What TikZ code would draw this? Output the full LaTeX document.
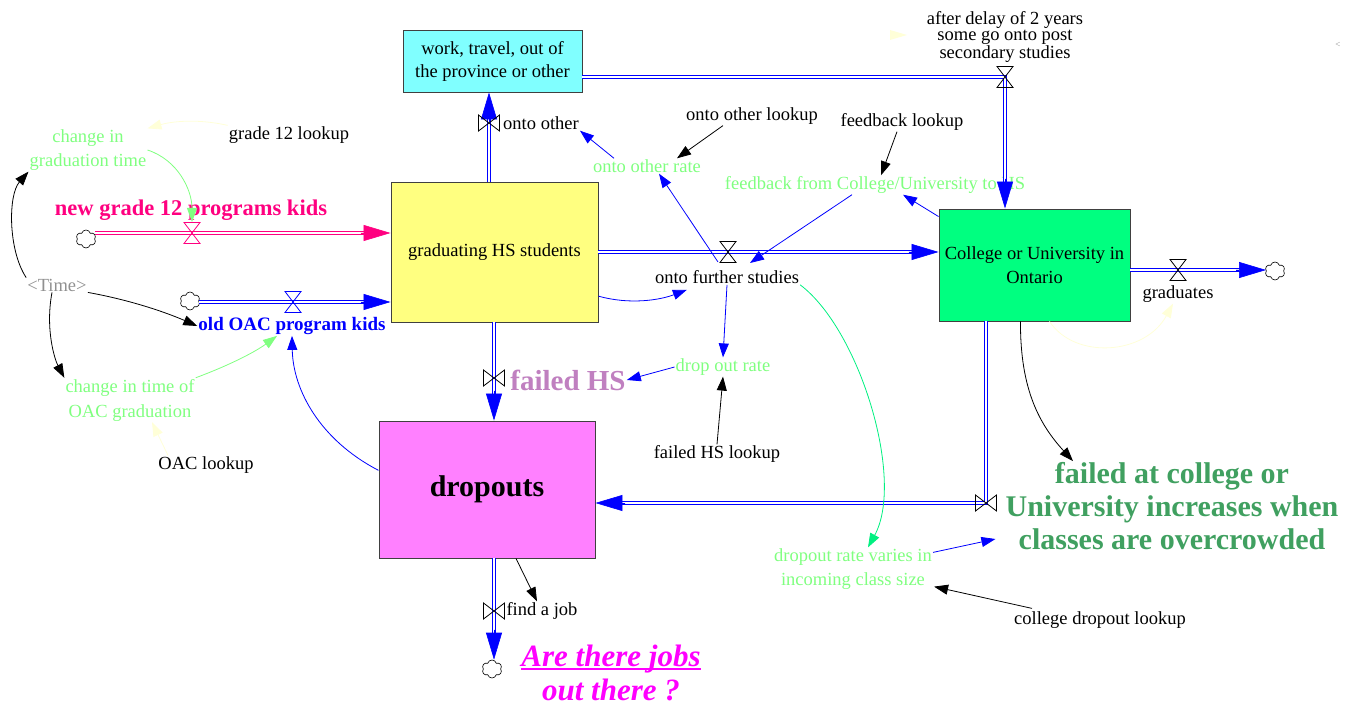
\documentclass[tikz,border=0pt]{standalone}
\usepackage{fontspec}
\setmainfont{Liberation Serif}
\usetikzlibrary{arrows.meta,shapes.symbols,calc}
\definecolor{cyanbox}{HTML}{80FFFF}
\definecolor{yelbox}{HTML}{FFFF80}
\definecolor{grnbox}{HTML}{00FF80}
\definecolor{magbox}{HTML}{FF80FF}
\definecolor{auxgreen}{HTML}{80FF80}
\definecolor{pinkflow}{HTML}{FF0080}
\definecolor{mauve}{HTML}{C080C0}
\definecolor{biggreen}{HTML}{40A060}
\definecolor{faint}{HTML}{FFFFD8}
\definecolor{spring}{HTML}{00F080}
\definecolor{timegray}{HTML}{909090}
\definecolor{jobmag}{HTML}{FF00FF}
\newcommand{\lowuline}[1]{{\setbox0\hbox{#1}\rlap{\rule[-3.5pt]{\wd0}{2pt}}\box0}}
\begin{document}
\begin{tikzpicture}[x=1pt,y=-1pt,
  stock/.style={draw=black!75, line width=0.9pt, inner sep=0pt, align=center, font=\fontsize{18.5}{23}\selectfont},
  lbl/.style={inner sep=1pt, align=center, font=\fontsize{18.5}{23}\selectfont},
  pipe/.style={draw=#1, double=white, line width=1.1pt, double distance=2pt, shorten >=26pt},
  pipe/.default=blue,
  tipst/.style={draw=#1, fill=#1, line width=0.6pt, -{Triangle[length=27pt,width=16pt]}},
  conn/.style={line width=0.8pt, -{Triangle[length=14pt,width=10pt]}},
  cloudst/.style={cloud, cloud puffs=6, draw=black, line width=0.6pt, minimum width=20pt, minimum height=18pt, inner sep=0pt, aspect=1.1},
  valveh/.pic={\draw[line width=0.8pt, pic actions] (-8,-10.5) -- (8,-10.5) -- (-8,10.5) -- (8,10.5) -- cycle;},
  valvev/.pic={\draw[line width=0.8pt, pic actions] (-10.5,-8) -- (-10.5,8) -- (10.5,-8) -- (10.5,8) -- cycle;}
]
\useasboundingbox (0,0) rectangle (1355,708);

% stocks
\node[stock, fill=cyanbox, minimum width=179pt, minimum height=62pt] (work) at (492.5,61) {work, travel, out of\\the province or other};
\node[stock, fill=yelbox, minimum width=207pt, minimum height=140pt] (grad) at (494.5,252) {graduating HS students};
\node[stock, fill=grnbox, minimum width=191pt, minimum height=112pt, font=\fontsize{18.5}{24}\selectfont] (col) at (1034.5,265) {College or University in\\Ontario};
\node[stock, fill=magbox, minimum width=216pt, minimum height=137pt, font=\bfseries\fontsize{30}{32}\selectfont] (drop) at (487,489.5) {dropouts};

% valves
\coordinate (v1) at (192,233);
\coordinate (v1top) at (192,222);
\coordinate (v2) at (293,302);
\coordinate (v3) at (489,123);
\coordinate (v4) at (728,252);
\coordinate (v5) at (1005,77);
\coordinate (v6) at (1178,270);
\coordinate (v7) at (494,378);
\coordinate (v8) at (494,611);
\coordinate (v9) at (986,503);

% clouds
\node[cloudst] (c1) at (86,239) {};
\node[cloudst] (c2) at (190,301) {};
\node[cloudst] (c3) at (1275,271) {};
\node[cloudst] (c4) at (492,669) {};

% flow labels
\node[lbl, text=pinkflow, font=\bfseries\fontsize{22.5}{26}\selectfont] (ng12) at (191,210) {new grade 12 programs kids};
\node[lbl, text=blue, font=\bfseries\fontsize{19}{22}\selectfont] (oac) at (292,326) {old OAC program kids};
\node[lbl] (ooth) at (541,123) {onto other};
\node[lbl] (ofs) at (727,277) {onto further studies};
\node[lbl, font=\fontsize{18.5}{16.5}\selectfont] (delay) at (1005,37) {after delay of 2 years\\some go onto post\\secondary studies};
\node[lbl] (grads) at (1178,294) {graduates};
\node[lbl, text=mauve, font=\bfseries\fontsize{29}{32}\selectfont] (fhs) at (568,380) {failed HS};
\node[lbl] (fjob) at (542,611) {find a job};
\node[lbl, text=biggreen, font=\bfseries\fontsize{30}{33}\selectfont] (fcol) at (1172,506) {failed at college or\\University increases when\\classes are overcrowded};
\node[lbl, text=jobmag, font=\bfseries\itshape\fontsize{31}{34}\selectfont] (jobs) at (611,673) {\lowuline{Are there jobs}\\out there ?};

% auxiliaries
\node[lbl, text=auxgreen, font=\fontsize{18.5}{24}\selectfont] (cgt) at (88,150) {change in\\graduation time};
\node[lbl] (g12lk) at (289,135) {grade 12 lookup};
\node[lbl, text=timegray] (time) at (57,285) {<Time>};
\node[lbl, text=auxgreen, font=\fontsize{18.5}{25}\selectfont] (coag) at (130,400) {change in time of\\OAC graduation};
\node[lbl] (oaclk) at (206,465) {OAC lookup};
\node[lbl] (ootrlk) at (752,116) {onto other lookup};
\node[lbl, text=auxgreen] (ootr) at (647,166) {onto other rate};
\node[lbl] (fblk) at (902,122) {feedback lookup};
\node[lbl, text=auxgreen] (fbc) at (875,185) {feedback from College/University to HS};
\node[lbl, text=auxgreen] (dor) at (723,367) {drop out rate};
\node[lbl] (fhslk) at (717,454) {failed HS lookup};
\node[lbl, text=auxgreen, font=\fontsize{18.5}{24}\selectfont] (drv) at (853,569) {dropout rate varies in\\incoming class size};
\node[lbl] (cdlk) at (1100,620) {college dropout lookup};
\node[text=timegray, font=\fontsize{9}{10}\selectfont, inner sep=0pt] (lt) at (1338,45) {<};

% pipes
\draw[pipe=pinkflow] (c1.east |- v1) -- (grad.west |- v1);
\draw[tipst=pinkflow] ($(grad.west |- v1)+(-30,0)$) -- (grad.west |- v1);
\draw[pipe] (c2.east |- v2) -- (grad.west |- v2);
\draw[tipst=blue] ($(grad.west |- v2)+(-30,0)$) -- (grad.west |- v2);
\draw[pipe] (grad.north -| v3) -- (work.south -| v3);
\draw[tipst=blue] ($(work.south -| v3)+(0,30)$) -- (work.south -| v3);
\draw[pipe] (work.east |- v5) -- (v5) -- (col.north -| v5);
\draw[tipst=blue] ($(col.north -| v5)+(0,-30)$) -- (col.north -| v5);
\draw[pipe] (grad.east |- v4) -- (col.west |- v4);
\draw[tipst=blue] ($(col.west |- v4)+(-30,0)$) -- (col.west |- v4);
\draw[pipe] (col.east |- v6) -- (c3.west |- v6);
\draw[tipst=blue] ($(c3.west |- v6)+(-30,0)$) -- (c3.west |- v6);
\draw[pipe] (grad.south -| v7) -- (drop.north -| v7);
\draw[tipst=blue] ($(drop.north -| v7)+(0,-30)$) -- (drop.north -| v7);
\draw[pipe] (drop.south -| v8) -- (v8 |- c4.north);
\draw[tipst=blue] ($(v8 |- c4.north)+(0,-30)$) -- (v8 |- c4.north);
\draw[pipe] (col.south -| v9) -- (v9) -- (drop.east |- v9);
\draw[tipst=blue] ($(drop.east |- v9)+(30,0)$) -- (drop.east |- v9);

% valve symbols
\pic[draw=pinkflow] at (v1) {valveh};
\pic[draw=blue] at (v2) {valveh};
\pic at (v3) {valvev};
\pic at (v4) {valveh};
\pic at (v5) {valveh};
\pic at (v6) {valveh};
\pic at (v7) {valvev};
\pic at (v8) {valvev};
\pic at (v9) {valvev};

% connectors
\draw[conn] (time.north west) .. controls (8,250) and (8,195) .. (cgt.south west);
\draw[conn] (time.south east) .. controls (130,300) and (165,312) .. (oac.west);
\draw[conn] ($(time.south)+(-5,0)$) .. controls (45,330) and (55,360) .. (coag.north west);
\draw[conn, draw=auxgreen] (coag.north east) .. controls (230,365) and (255,352) .. ($(oac.south)+(-15,0)$);
\draw[conn, draw=faint] ($(oaclk.north)+(-38,0)$) -- ($(coag.south)+(22,0)$);
\draw[conn, draw=faint] (g12lk.north west) .. controls (195,118) and (170,122) .. (cgt.north east);
\draw[conn, draw=auxgreen] (cgt.east) .. controls (178,160) and (192,190) .. (v1top);
\draw[conn, draw=blue] (drop.170) .. controls (320,440) and (293,390) .. (oac.south);
\draw[conn, draw=blue] (grad.-23) .. controls (630,305) and (660,300) .. ($(ofs.south west)+(33,5)$);
\draw[conn, draw=blue] ($(v4)+(-10,10)$) -- ($(ootr.south)+(12,0)$);
\draw[conn, draw=blue] ($(ootr.north)+(-33,0)$) -- (ooth.south east);
\draw[conn] ($(ootrlk.south)+(-29,0)$) -- ($(ootr.north)+(30,0)$);
\draw[conn] ($(fblk.south)+(-5,0)$) -- ($(fbc.north)+(6,0)$);
\draw[conn, draw=blue] ($(fbc.south)+(-23,0)$) -- ($(v4)+(22,11)$);
\draw[conn, draw=blue] ($(col.north west)+(0,8)$) -- ($(fbc.south)+(28,0)$);
\draw[conn, draw=blue] (ofs.south) -- (dor.north);
\draw[conn, draw=blue] (dor.west) -- (fhs.east);
\draw[conn] (fhslk.north) -- (dor.south);
\draw[conn, draw=spring] (ofs.south east) .. controls (860,330) and (905,480) .. ($(drv.north)+(15,0)$);
\draw[conn, draw=blue] ($(drv.north east)+(0,5)$) -- ($(fcol.west)+(-9,33)$);
\draw[conn] ($(cdlk.north west)+(19,-2)$) -- ($(drv.south east)+(1,-4)$);
\draw[conn] ($(col.south)+(-14,0)$) .. controls (1020,390) and (1040,425) .. ($(fcol.north)+(-99,0)$);
\draw[conn, draw=faint] ($(col.south)+(15,0)$) .. controls (1075,360) and (1145,355) .. ($(grads.south)+(-5,0)$);
\draw[conn] ($(drop.south)+(29,0)$) -- ($(fjob.north)+(-5,0)$);
\fill[faint] (890,30) -- (907,35) -- (890,40) -- cycle;
\end{tikzpicture}
\end{document}
